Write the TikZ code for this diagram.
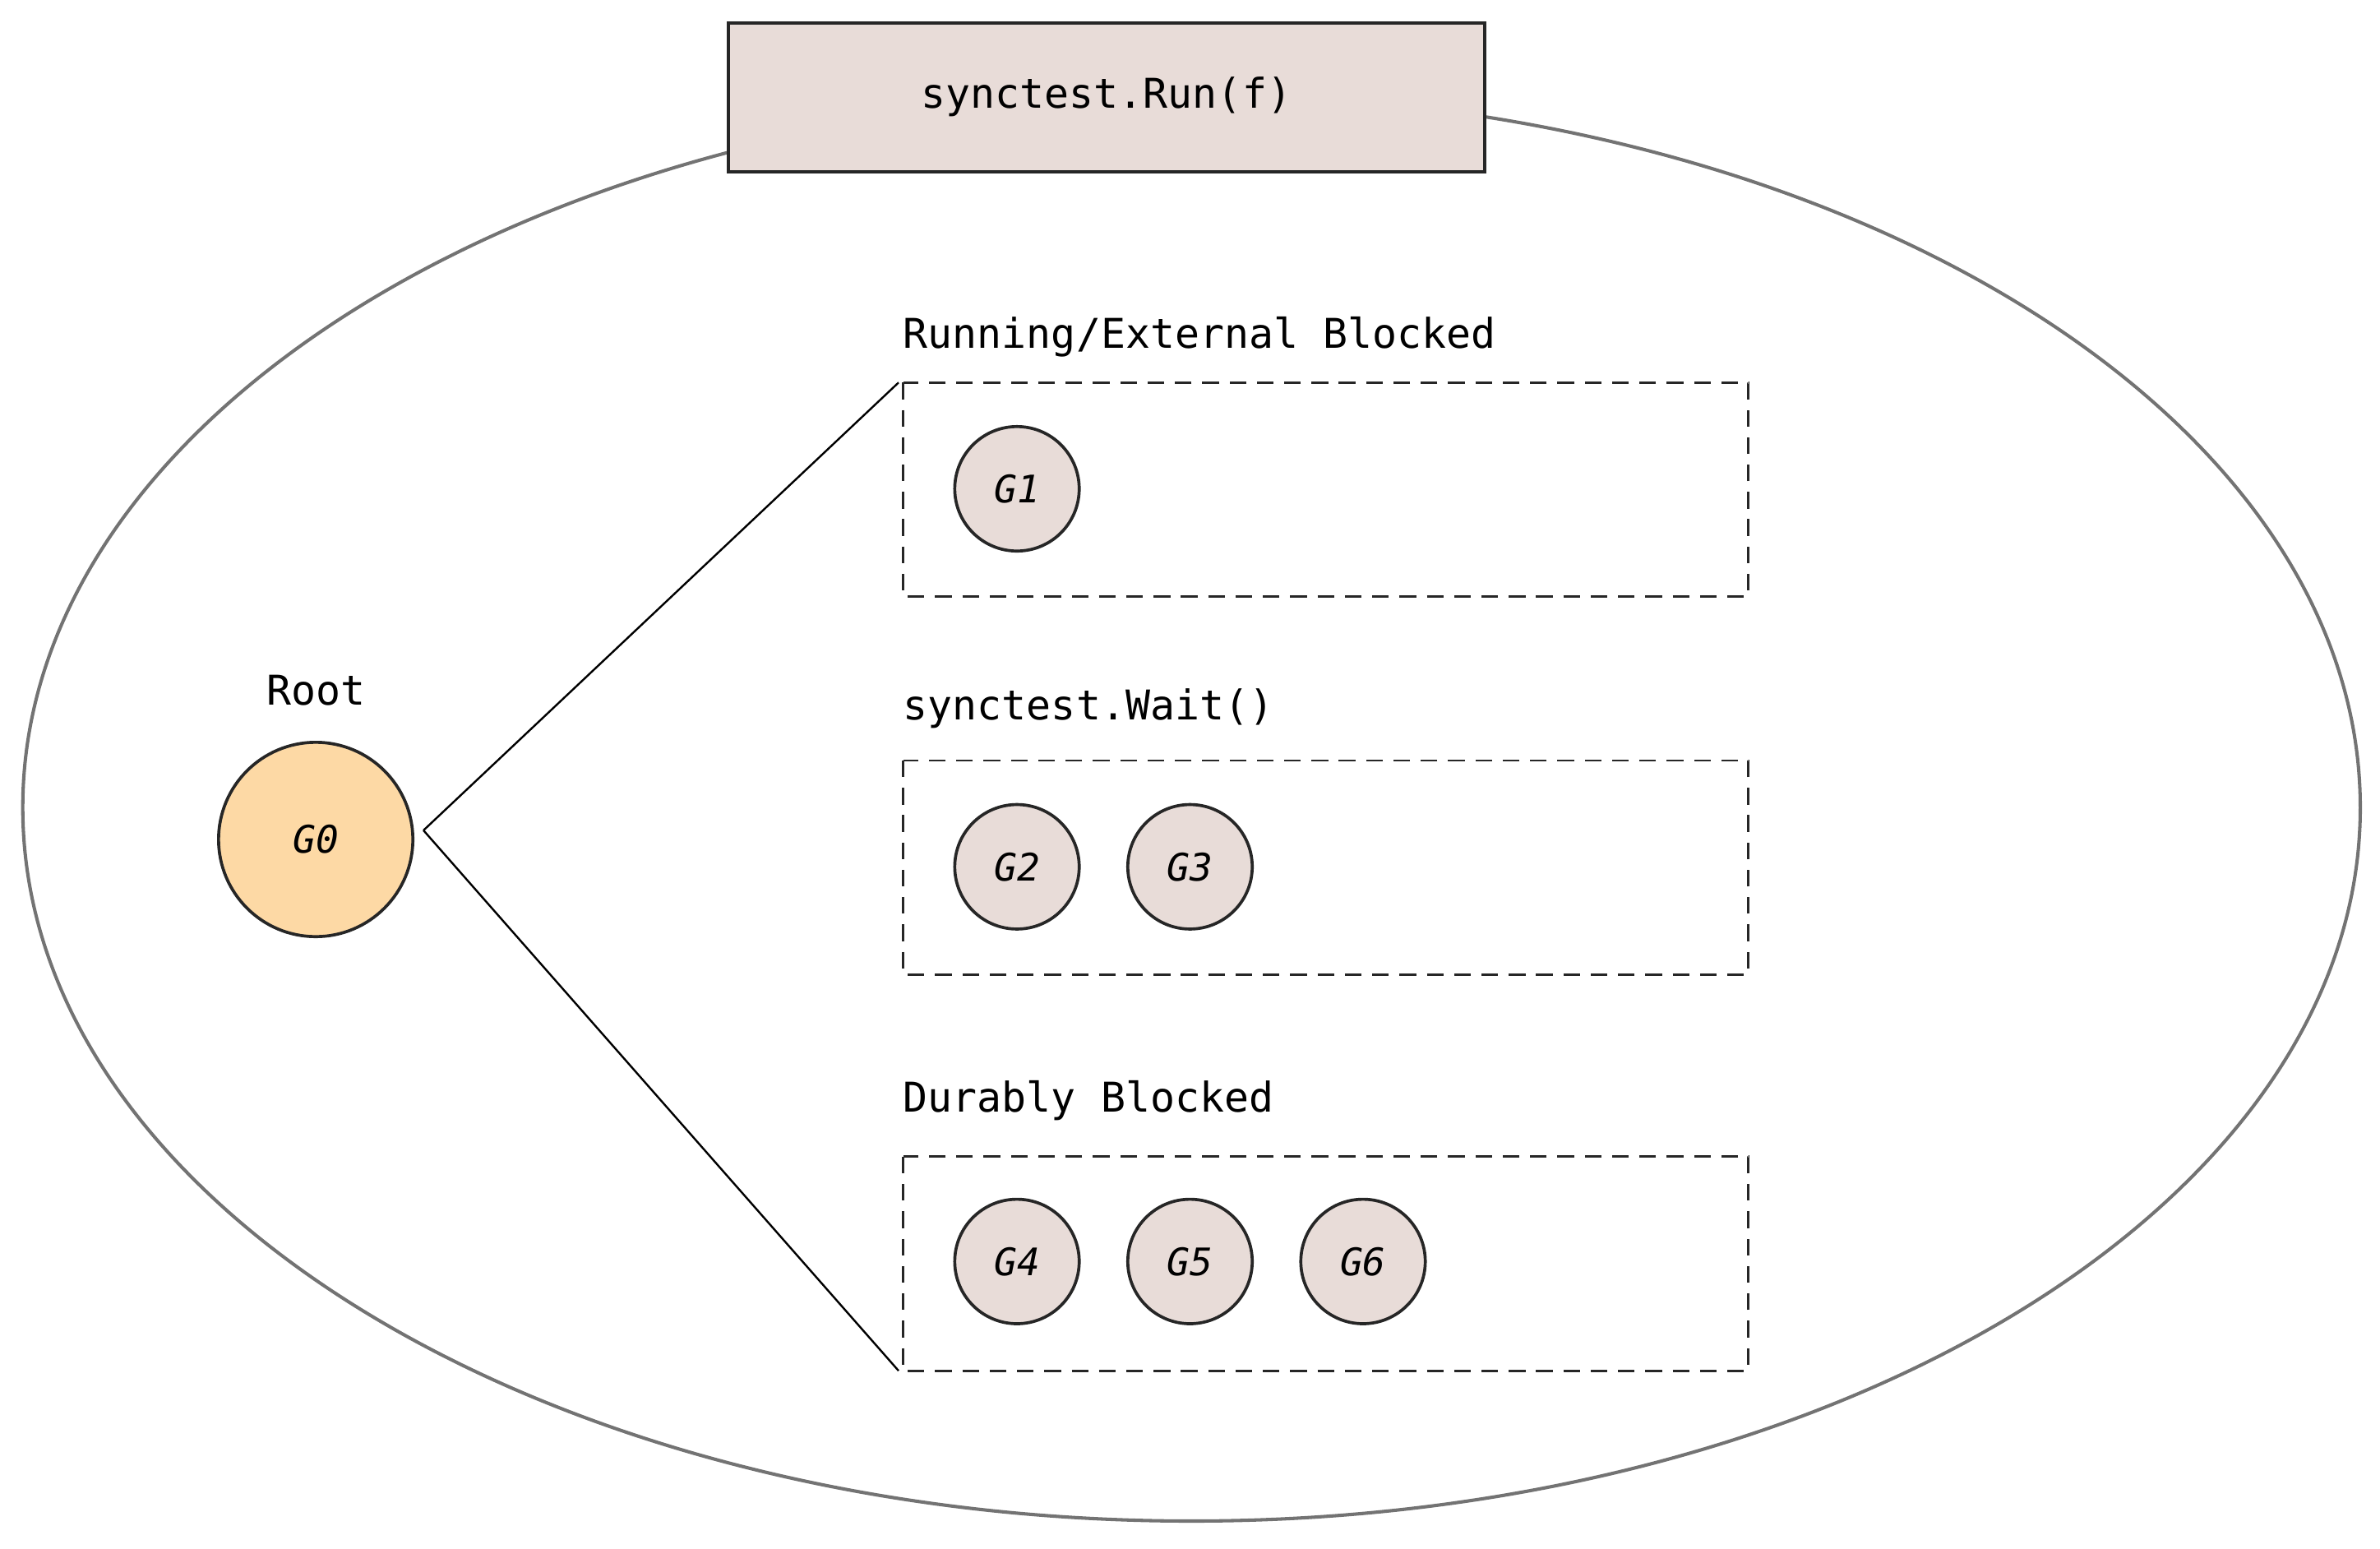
\documentclass[tikz,border=0pt]{standalone}
\usepackage{fontspec}
\setmonofont{DejaVu Sans Mono}
\begin{document}
\begin{tikzpicture}[x=1pt,y=-1pt,
  gnode/.style={circle,draw=black!85,line width=2pt,fill=gfill,minimum size=82pt,inner sep=0pt,font=\ttfamily\fontsize{25}{28}\selectfont\itshape},
  grp/.style={draw=black!85,line width=1.6pt,dash pattern=on 11pt off 7pt},
  lbl/.style={anchor=west,inner sep=0pt,font=\ttfamily\fontsize{27}{30}\selectfont}]
\definecolor{gfill}{HTML}{E8DCD8}
\definecolor{gzero}{HTML}{FDD9A5}
\useasboundingbox (0,0) rectangle (1568,1020);
\draw[draw=gray!90!black,line width=2.2pt] (785,532) ellipse [x radius=770,y radius=470];
\node[draw=black!85,line width=2.2pt,fill=gfill,minimum width=498pt,minimum height=98pt,font=\ttfamily\fontsize{27}{30}\selectfont] (run) at (729,64) {synctest.Run(f)};
\draw[grp] (595,252) rectangle (1152,393);
\draw[grp] (595,501) rectangle (1152,642);
\draw[grp] (595,762) rectangle (1152,903);
\coordinate (b1) at (592,252);
\coordinate (b3) at (592,903);
\node[lbl] (l1) at (595,222) {Running/External Blocked};
\node[lbl] (l2) at (595,467) {synctest.Wait()};
\node[lbl] (l3) at (595,725) {Durably Blocked};
\node[gnode,fill=gzero,minimum size=128pt] (g0) at (208,553) {G0};
\node[font=\ttfamily\fontsize{27}{30}\selectfont] (root) at (208,455) {Root};
\node[gnode] (g1) at (670,322) {G1};
\node[gnode] (g2) at (670,571) {G2};
\node[gnode] (g3) at (784,571) {G3};
\node[gnode] (g4) at (670,831) {G4};
\node[gnode] (g5) at (784,831) {G5};
\node[gnode] (g6) at (898,831) {G6};
\draw[line width=1.3pt] ([shift={(6,-6)}]g0.east) -- (b1);
\draw[line width=1.3pt] ([shift={(6,-6)}]g0.east) -- (b3);
\end{tikzpicture}
\end{document}
